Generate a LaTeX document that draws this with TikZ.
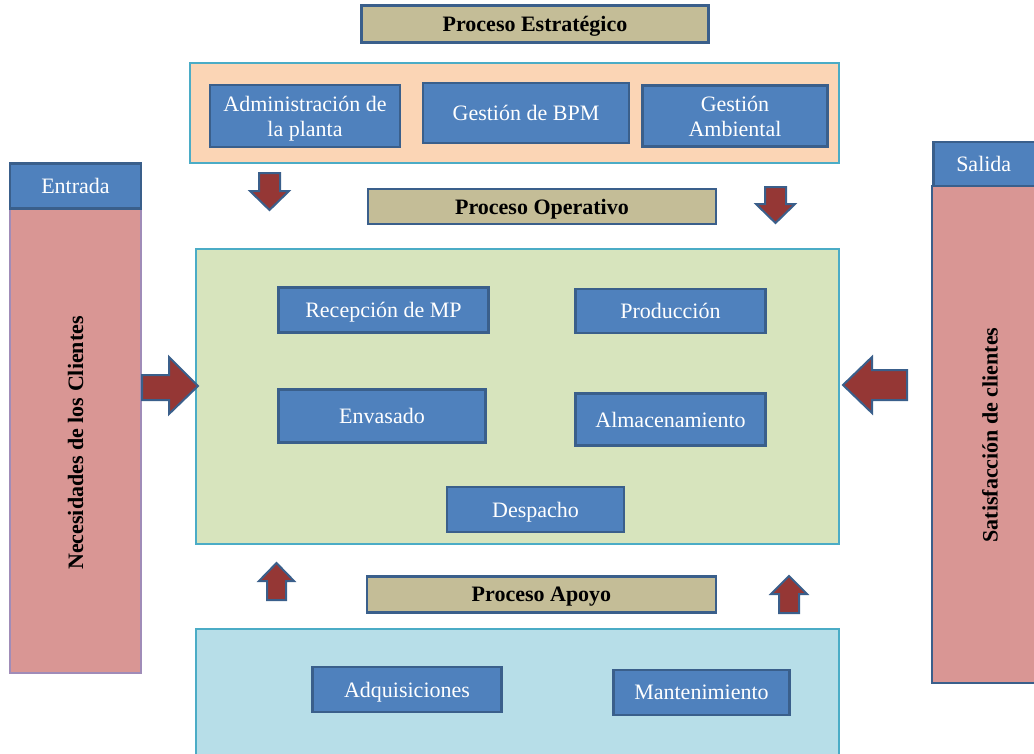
\documentclass[tikz,border=0pt]{standalone}
\usepackage{fontspec}
\setmainfont{Liberation Serif}
\definecolor{tanfill}{HTML}{C4BD97}
\definecolor{boxblue}{HTML}{4F81BD}
\definecolor{boxedge}{HTML}{3A5F8B}
\definecolor{peach}{HTML}{FBD5B5}
\definecolor{sage}{HTML}{D7E4BD}
\definecolor{skyfill}{HTML}{B7DEE8}
\definecolor{tealedge}{HTML}{4BACC6}
\definecolor{rosefill}{HTML}{D99694}
\definecolor{lilacedge}{HTML}{A08CB8}
\definecolor{maroon}{HTML}{953735}
\tikzset{
  container/.style={draw=tealedge, line width=2.5pt},
  titlebox/.style={draw=boxedge, fill=tanfill, line width=2.5pt, font=\fontsize{22}{25}\selectfont\bfseries, text=black, inner sep=0pt, text depth=0pt},
  procbox/.style={draw=boxedge, fill=boxblue, line width=2.5pt, text=white, align=center, inner sep=0pt, text depth=0pt, font=\fontsize{22}{25}\selectfont},
  blockarrow/.style={draw=boxedge, fill=maroon, line width=2pt, line join=miter},
  sidelabel/.style={rotate=90, font=\fontsize{22}{25}\selectfont\bfseries, text=black},
}
\begin{document}
\begin{tikzpicture}[x=1pt, y=-1pt]
\useasboundingbox (0,0) rectangle (1034,753);
\clip (0,0) rectangle (1034,753);

% containers
\draw[container, fill=peach] (190,63) rectangle (839,163);
\draw[container, fill=sage] (196,249) rectangle (839,544);
\draw[container, fill=skyfill] (196,629) rectangle (839,770);

% input column
\draw[draw=lilacedge, line width=1.5pt, fill=rosefill] (10,208) rectangle (141,673);
\node[procbox, minimum width=131pt, minimum height=45pt] (entrada) at (75.5,186) {Entrada};
\node[sidelabel] (necesidades) at (75.5,443) {Necesidades de los Clientes};

% output column
\draw[draw=boxedge, line width=2.5pt, fill=rosefill] (932,186) rectangle (1045,683);
\node[procbox, minimum width=113pt, minimum height=44pt, anchor=west] (salida) at (932,164) {\hspace*{-12pt}Salida};
\node[sidelabel] (satisfaccion) at (990,435) {Satisfacción de clientes};

% section titles
\node[titlebox, minimum width=347pt, minimum height=37pt] (estrategico) at (535,24) {Proceso Estratégico};
\node[titlebox, minimum width=348pt, minimum height=35pt] (operativo) at (542,206.5) {Proceso Operativo};
\node[titlebox, minimum width=349pt, minimum height=36pt] (apoyo) at (541.5,594.5) {Proceso Apoyo};

% strategic processes
\node[procbox, minimum width=190pt, minimum height=62pt] (admin) at (305,116) {Administración de\\la planta};
\node[procbox, minimum width=206pt, minimum height=60pt] (bpm) at (526,113) {Gestión de BPM};
\node[procbox, minimum width=185pt, minimum height=61pt] (ambiental) at (735,116) {Gestión\\Ambiental};

% operative processes
\node[procbox, minimum width=210pt, minimum height=45pt] (recepcion) at (383.5,310) {Recepción de MP};
\node[procbox, minimum width=190pt, minimum height=44pt] (produccion) at (670.5,311) {Producción};
\node[procbox, minimum width=207pt, minimum height=53pt] (envasado) at (382,416) {Envasado};
\node[procbox, minimum width=190pt, minimum height=52pt] (almacen) at (670.5,419.5) {Almacenamiento};
\node[procbox, minimum width=177pt, minimum height=45pt] (despacho) at (535.5,509.5) {Despacho};

% support processes
\node[procbox, minimum width=189pt, minimum height=45pt] (adquisiciones) at (407,689.5) {Adquisiciones};
\node[procbox, minimum width=176pt, minimum height=45pt] (mantenimiento) at (701.5,692.5) {Mantenimiento};

% block arrows
\draw[blockarrow] (142,375) -- (169,375) -- (169,357) -- (198,386) -- (169,414) -- (169,400) -- (142,400) -- cycle;
\draw[blockarrow] (907,370) -- (872,370) -- (872,357) -- (843,385) -- (872,413) -- (872,400) -- (907,400) -- cycle;
\draw[blockarrow] (259,173) -- (280,173) -- (280,191) -- (289,191) -- (269.5,210) -- (250,191) -- (259,191) -- cycle;
\draw[blockarrow] (765,187) -- (786,187) -- (786,204) -- (795,204) -- (775.5,223) -- (756,204) -- (765,204) -- cycle;
\draw[blockarrow] (267,600) -- (286,600) -- (286,581) -- (294,581) -- (276.5,563) -- (259,581) -- (267,581) -- cycle;
\draw[blockarrow] (779,613) -- (799,613) -- (799,594) -- (807,594) -- (789,576) -- (771,594) -- (779,594) -- cycle;
\end{tikzpicture}
\end{document}
